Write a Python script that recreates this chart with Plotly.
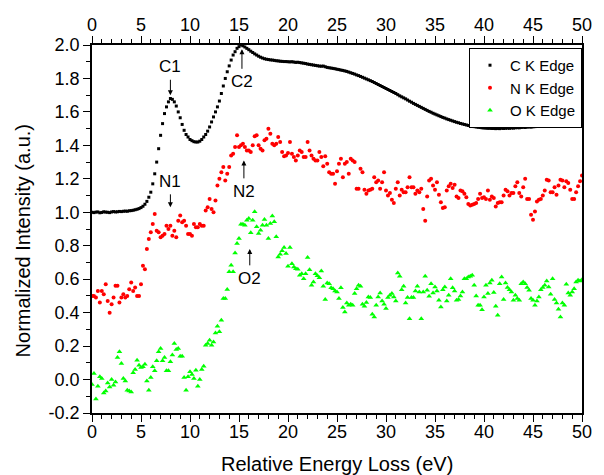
import plotly.graph_objects as go

# ---------------- data (0.2 eV grid, 0 .. 50 eV) ----------------
E_STEP = 0.2

c_edge = [
    1.000, 0.998, 1.001, 1.002, 0.997,
    0.999, 1.003, 1.001, 1.000, 0.998,
    1.002, 1.004, 1.002, 1.003, 1.005,
    1.004, 1.006, 1.007, 1.006, 1.009,
    1.010, 1.012, 1.015, 1.018, 1.022,
    1.028, 1.036, 1.048, 1.065, 1.090,
    1.120, 1.170, 1.230, 1.300, 1.380,
    1.460, 1.530, 1.590, 1.630, 1.660,
    1.680, 1.675, 1.660, 1.635, 1.600,
    1.565, 1.525, 1.490, 1.465, 1.450,
    1.435, 1.428, 1.422, 1.420, 1.420,
    1.425, 1.435, 1.450, 1.465, 1.485,
    1.510, 1.540, 1.570, 1.600, 1.630,
    1.665, 1.710, 1.755, 1.800, 1.840,
    1.875, 1.910, 1.940, 1.960, 1.980,
    1.990, 2.000, 1.995, 1.988, 1.980,
    1.972, 1.963, 1.955, 1.947, 1.940,
    1.933, 1.927, 1.922, 1.918, 1.915,
    1.913, 1.911, 1.910, 1.908, 1.906,
    1.905, 1.903, 1.902, 1.901, 1.901,
    1.900, 1.899, 1.900, 1.898, 1.896,
    1.897, 1.895, 1.893, 1.891, 1.889,
    1.886, 1.884, 1.882, 1.880, 1.878,
    1.876, 1.874, 1.873, 1.874, 1.870,
    1.866, 1.864, 1.862, 1.860, 1.858,
    1.855, 1.853, 1.850, 1.848, 1.845,
    1.842, 1.838, 1.834, 1.830, 1.826,
    1.821, 1.817, 1.812, 1.807, 1.802,
    1.797, 1.792, 1.787, 1.782, 1.776,
    1.770, 1.764, 1.758, 1.752, 1.746,
    1.740, 1.734, 1.728, 1.722, 1.716,
    1.710, 1.703, 1.696, 1.690, 1.684,
    1.678, 1.671, 1.664, 1.658, 1.651,
    1.645, 1.639, 1.633, 1.627, 1.621,
    1.615, 1.609, 1.603, 1.598, 1.592,
    1.587, 1.582, 1.577, 1.572, 1.567,
    1.563, 1.558, 1.554, 1.550, 1.546,
    1.542, 1.538, 1.535, 1.531, 1.528,
    1.525, 1.522, 1.519, 1.517, 1.515,
    1.512, 1.510, 1.508, 1.507, 1.505,
    1.504, 1.503, 1.502, 1.502, 1.501,
    1.501, 1.500, 1.501, 1.500, 1.502,
    1.501, 1.502, 1.503, 1.502, 1.504,
    1.503, 1.505, 1.506, 1.505, 1.507,
    1.508, 1.507, 1.509, 1.510, 1.509,
    1.511, 1.512, 1.514, 1.513, 1.515,
    1.516, 1.518, 1.517, 1.519, 1.520,
    1.521, 1.522, 1.520, 1.523, 1.522,
    1.521, 1.519, 1.520, 1.518, 1.517,
    1.518, 1.517, 1.516, 1.518, 1.517,
    1.516,
]

n_edge = [
    0.50, 0.50, 0.49, 0.53, 0.46,
    0.53, 0.51, 0.57, 0.47, 0.40,
    0.45, 0.49, 0.56, 0.56, 0.46,
    0.49, 0.51, 0.49, 0.50, 0.54,
    0.58, 0.53, 0.55, 0.50, 0.50,
    0.57, 0.68, 0.66, 0.78, 0.84,
    0.88, 0.93, 0.99, 0.89, 0.88,
    0.85, 0.86, 0.87, 0.92, 0.90,
    0.92, 0.86, 0.89, 0.85, 0.95,
    0.98, 0.94, 0.95, 0.92, 0.87,
    0.87, 0.86, 0.93, 0.91, 0.91,
    0.93, 0.92, 0.92, 1.01, 1.03,
    1.08, 1.02, 1.00, 1.07, 1.16,
    1.20, 1.24, 1.27, 1.19, 1.23,
    1.27, 1.34, 1.35, 1.39, 1.46,
    1.39, 1.40, 1.41, 1.39, 1.37,
    1.37, 1.36, 1.40, 1.455, 1.46,
    1.40, 1.38, 1.37, 1.43, 1.44,
    1.50, 1.47, 1.41, 1.40, 1.41,
    1.45, 1.42, 1.36, 1.335, 1.34,
    1.355, 1.42, 1.35, 1.33, 1.31,
    1.34, 1.37, 1.36, 1.33, 1.33,
    1.42, 1.37, 1.34, 1.32, 1.31,
    1.31, 1.36, 1.33, 1.275, 1.335,
    1.29, 1.24, 1.23, 1.23, 1.17,
    1.245, 1.29, 1.32, 1.21, 1.29,
    1.30, 1.23, 1.32, 1.31, 1.30,
    1.14, 1.14, 1.26, 1.24, 1.135,
    1.11, 1.13, 1.135, 1.14, 1.21,
    1.18, 1.19, 1.14, 1.18, 1.24,
    1.13, 1.10, 1.115, 1.075, 1.055,
    1.14, 1.18, 1.10, 1.135, 1.12,
    1.12, 1.15, 1.21, 1.15, 1.15,
    1.11, 1.13, 1.12, 1.14, 1.02,
    0.95, 1.095, 1.19, 1.20, 1.16,
    1.135, 1.18, 1.105, 1.06, 1.025,
    1.03, 1.13, 1.155, 1.17, 1.145,
    1.165, 1.095, 1.085, 1.13, 1.125,
    1.11, 1.09, 1.05, 1.04, 1.045,
    1.05, 1.055, 1.08, 1.11, 1.085,
    1.09, 1.08, 1.13, 1.075, 1.095,
    1.085, 1.035, 1.055, 1.06, 1.06,
    1.10, 1.135, 1.125, 1.10, 1.115,
    1.115, 1.155, 1.18, 1.115, 1.095,
    1.15, 1.20, 1.08, 1.08, 0.985,
    0.955, 1.005, 1.065, 1.075, 1.08,
    1.10, 1.13, 1.195, 1.19, 1.12,
    1.12, 1.15, 1.105, 1.16, 1.195,
    1.19, 1.15, 1.185, 1.175, 1.135,
    1.08, 1.08, 1.12, 1.155, 1.185,
    1.22,
]

o_edge = [
    -0.03, 0.036, -0.116, -0.04, 0.016,
    0.006, -0.08, -0.068, -0.02, -0.044,
    0.0, -0.034, -0.014, 0.132, 0.166,
    0.096, 0.006, -0.008, -0.064, -0.068,
    -0.074, 0.04, 0.06, 0.116, 0.086,
    0.072, 0.076, 0.092, -0.008, -0.064,
    0.012, 0.076, 0.052, 0.112, 0.166,
    0.186, 0.112, 0.132, 0.052, 0.052,
    0.106, 0.146, 0.216, 0.18, 0.186,
    0.14, 0.14, 0.012, -0.064, 0.016,
    0.046, 0.03, 0.006, 0.056, -0.04,
    0.0, 0.06, 0.08, 0.205, 0.215,
    0.235, 0.205, 0.225, 0.279, 0.319,
    0.285, 0.355, 0.485, 0.485, 0.538,
    0.644, 0.684, 0.644, 0.757, 0.813,
    0.843, 0.929, 0.929, 0.923, 0.953,
    0.963, 0.877, 0.953, 1.003, 0.913,
    0.873, 0.893, 0.923, 0.957, 0.923,
    0.843, 0.933, 0.977, 0.943, 0.853,
    0.733, 0.749, 0.77, 0.789, 0.753,
    0.677, 0.789, 0.693, 0.673, 0.663,
    0.66, 0.623, 0.633, 0.603, 0.633,
    0.729, 0.657, 0.563, 0.583, 0.633,
    0.62, 0.609, 0.649, 0.557, 0.478,
    0.577, 0.573, 0.549, 0.543, 0.53,
    0.523, 0.484, 0.549, 0.43, 0.404,
    0.458, 0.444, 0.45, 0.444, 0.514,
    0.543, 0.563, 0.557, 0.45, 0.438,
    0.46, 0.494, 0.49, 0.39, 0.374,
    0.444, 0.494, 0.518, 0.47, 0.45,
    0.424, 0.49, 0.504, 0.514, 0.494,
    0.47, 0.637, 0.617, 0.537, 0.557,
    0.458, 0.49, 0.364, 0.49, 0.49,
    0.53, 0.557, 0.524, 0.364, 0.524,
    0.617, 0.534, 0.498, 0.573, 0.518,
    0.553, 0.53, 0.474, 0.434, 0.537,
    0.553, 0.47, 0.504, 0.603, 0.549,
    0.53, 0.474, 0.478, 0.50, 0.524,
    0.603, 0.603, 0.613, 0.617, 0.623,
    0.563, 0.50, 0.444, 0.444, 0.418,
    0.494, 0.563, 0.514, 0.577, 0.593,
    0.52, 0.438, 0.384, 0.573, 0.613,
    0.478, 0.577, 0.55, 0.537, 0.524,
    0.474, 0.504, 0.484, 0.474, 0.573,
    0.583, 0.573, 0.55, 0.534, 0.484,
    0.474, 0.444, 0.47, 0.494, 0.537,
    0.55, 0.563, 0.589, 0.553, 0.51,
    0.603, 0.478, 0.458, 0.42, 0.374,
    0.458, 0.444, 0.569, 0.518, 0.504,
    0.524, 0.543, 0.583, 0.593, 0.589,
    0.597,
]

x_tick_vals = [0, 5, 10, 15, 20, 25, 30, 35, 40, 45, 50]
x_tick_text = ["0", "5", "10", "15", "20", "25", "30", "35", "40", "45", "50"]
y_tick_vals = [-0.2, 0.0, 0.2, 0.4, 0.6, 0.8, 1.0, 1.2, 1.4, 1.6, 1.8, 2.0]
y_tick_text = ["-0.2", "0.0", "0.2", "0.4", "0.6", "0.8", "1.0", "1.2", "1.4", "1.6", "1.8", "2.0"]

series_names = ["C K Edge", "N K Edge", "O K Edge"]

# peak labels: (text, x, arrow tip y, text y)
peak_labels = [
    ("C1", 8.0, 1.70, 1.87),
    ("C2", 15.3, 1.975, 1.78),
    ("N1", 8.0, 1.03, 1.185),
    ("N2", 15.5, 1.31, 1.125),
    ("O2", 16.1, 0.78, 0.605),
]


def energies(vals):
    return [round(i * E_STEP, 1) for i in range(len(vals))]


FONT = "Liberation Sans, Arial, sans-serif"

fig = go.Figure()
fig.add_trace(go.Scatter(x=energies(c_edge), y=c_edge, mode="markers", name=series_names[0],
                         marker=dict(symbol="square", size=3, color="#000000", line=dict(width=0))))
fig.add_trace(go.Scatter(x=energies(n_edge), y=n_edge, mode="markers", name=series_names[1],
                         marker=dict(symbol="circle", size=4, color="#ff0000", line=dict(width=0))))
fig.add_trace(go.Scatter(x=energies(o_edge), y=o_edge, mode="markers", name=series_names[2],
                         marker=dict(symbol="triangle-up", size=5, color="#00ff00", line=dict(width=0))))
# invisible trace to activate the top axis
fig.add_trace(go.Scatter(x=energies(c_edge), y=c_edge, xaxis="x2", mode="markers",
                         marker=dict(opacity=0), showlegend=False, hoverinfo="skip"))

axis_common = dict(
    showgrid=False, zeroline=False, showline=True, linecolor="black", linewidth=1.5,
    ticks="outside", ticklen=7, tickwidth=1.2, tickcolor="black",
    tickfont=dict(family=FONT, size=18, color="black"),
)

fig.update_layout(
    width=604, height=475,
    margin=dict(l=92, r=12, t=45, b=62),
    plot_bgcolor="white", paper_bgcolor="white",
    font=dict(family=FONT, color="black"),
    xaxis=dict(range=[0, 50], tickvals=x_tick_vals, ticktext=x_tick_text, ticklabelstandoff=-5,
               minor=dict(dtick=1, ticks="outside", ticklen=4, tickwidth=1, tickcolor="black"),
               **axis_common),
    xaxis2=dict(range=[0, 50], overlaying="x", side="top", anchor="y",
                tickvals=x_tick_vals, ticktext=x_tick_text, ticklabelstandoff=-2,
                minor=dict(dtick=1, ticks="outside", ticklen=4, tickwidth=1, tickcolor="black"),
                **axis_common),
    yaxis=dict(range=[-0.2, 2.0], tickvals=y_tick_vals, ticktext=y_tick_text, mirror=True,
               minor=dict(dtick=0.1, ticks="outside", ticklen=4, tickwidth=1, tickcolor="black"),
               **axis_common),
    showlegend=True,
    legend=dict(x=1.0, y=0.992, xanchor="right", yanchor="top",
                bordercolor="black", borderwidth=1, bgcolor="white",
                font=dict(family=FONT, size=15, color="black"),
                tracegroupgap=0),
)

for text, xv, tip, ty in peak_labels:
    fig.add_annotation(x=xv, y=tip, ax=xv, ay=ty, xref="x", yref="y", axref="x", ayref="y",
                       text=text, showarrow=True, arrowhead=2, arrowsize=1, arrowwidth=1,
                       arrowcolor="black", standoff=0, startstandoff=2,
                       font=dict(family=FONT, size=17, color="black"))

fig.add_annotation(text="Relative Energy Loss (eV)", xref="paper", yref="paper",
                   x=0.5, y=-(464 - 413) / 368, xanchor="center", yanchor="middle",
                   showarrow=False, font=dict(family=FONT, size=20, color="black"))
fig.add_annotation(text="Normalized Intensity (a.u.)", xref="paper", yref="paper",
                   x=(22 - 92) / 500, y=(413 - 241) / 368, xanchor="center", yanchor="middle",
                   textangle=-90, showarrow=False, font=dict(family=FONT, size=20, color="black"))

fig.write_html("out.html")
